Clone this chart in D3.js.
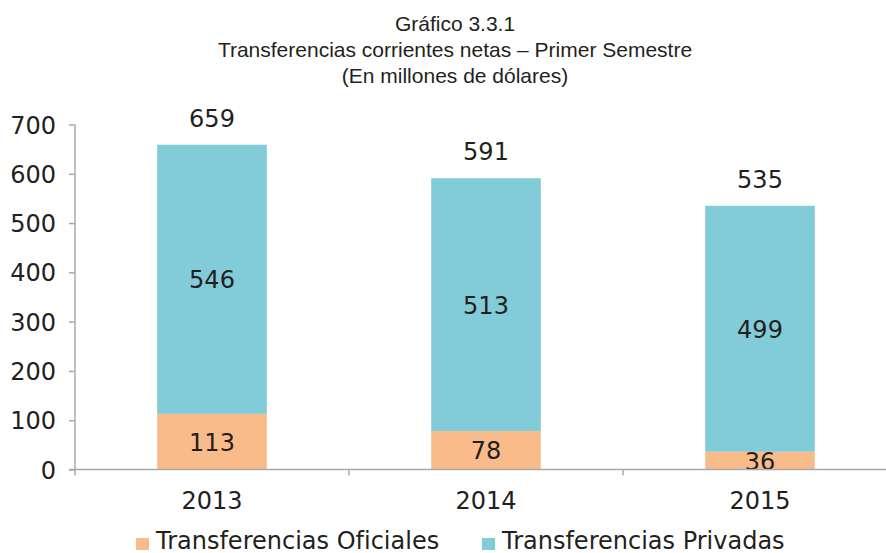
<!DOCTYPE html>
<html lang="es">
<head>
<meta charset="UTF-8">
<title>Gráfico 3.3.1</title>
<script src="https://d3js.org/d3.v7.min.js"></script>
<style>
  body { margin: 0; background: #fff; }
  .ttl { font-family: "Liberation Sans", Arial, sans-serif; font-size: 21px; fill: #231f20; }
  .lbl { font-family: "DejaVu Sans", Verdana, sans-serif; font-size: 24px; fill: #231f20; }
</style>
</head>
<body>
<svg id="chart" width="886" height="553"></svg>
<script>
// data
const years = ["2013", "2014", "2015"];
const oficiales = [113, 78, 36];
const privadas = [546, 513, 499];
const totales = [659, 591, 535];
const yTicks = [0, 100, 200, 300, 400, 500, 600, 700];
const seriesNames = ["Transferencias Oficiales", "Transferencias Privadas"];
const colors = ["#f9bb8a", "#82cbd8"];

const svg = d3.select("#chart");
const x0 = 75, x1 = 897, yTop = 124.5, yBot = 469.5;

const x = d3.scaleBand().domain(years).range([x0, x1]).paddingInner(0).paddingOuter(0);
const y = d3.scaleLinear().domain([0, 700]).range([yBot, yTop]);
const barW = x.bandwidth() * 0.4;

// titles
const titles = ["Gráfico 3.3.1", "Transferencias corrientes netas – Primer Semestre", "(En millones de dólares)"];
svg.selectAll("text.ttl").data(titles).join("text")
  .attr("class", "ttl")
  .attr("x", 455)
  .attr("y", (d, i) => 31 + i * 26)
  .attr("text-anchor", "middle")
  .text(d => d);

// stacked bars
const rows = years.map((yr, i) => ({year: yr, of: oficiales[i], pr: privadas[i], tot: totales[i]}));
const stack = d3.stack().keys(["of", "pr"])(rows);

const g = svg.append("g");
g.selectAll("g.s").data(stack).join("g")
  .attr("fill", (d, i) => colors[i])
  .selectAll("rect").data(d => d).join("rect")
  .attr("x", d => x(d.data.year) + (x.bandwidth() - barW) / 2)
  .attr("width", barW)
  .attr("y", d => y(d[1]))
  .attr("height", d => y(d[0]) - y(d[1]));

// segment labels
stack.forEach(s => {
  g.selectAll(null).data(s).join("text")
    .attr("class", "lbl")
    .attr("x", d => x(d.data.year) + x.bandwidth() / 2)
    .attr("y", d => y((d[0] + d[1]) / 2) + 9)
    .attr("text-anchor", "middle")
    .text(d => d[1] - d[0]);
});

// totals
g.selectAll("text.tot").data(rows).join("text")
  .attr("class", "lbl")
  .attr("x", d => x(d.year) + x.bandwidth() / 2)
  .attr("y", d => y(d.tot) - 18)
  .attr("text-anchor", "middle")
  .text(d => d.tot);

// y axis
const axisColor = "#a9a9b0";
const ya = svg.append("g").attr("transform", `translate(${x0},0)`)
  .call(d3.axisLeft(y).tickValues(yTicks).tickSize(6).tickPadding(13).tickSizeOuter(0));
ya.select(".domain").attr("stroke", axisColor).attr("stroke-width", 1.5)
  .attr("d", `M0,${yTop}V${yBot + 6}`);
ya.selectAll(".tick line").attr("stroke", axisColor).attr("stroke-width", 1.5);
ya.selectAll(".tick text").attr("class", "lbl").attr("fill", "#231f20").attr("dy", "0.36em");

// x axis
const xa = svg.append("g").attr("transform", `translate(0,${yBot})`);
xa.append("line").attr("x1", x0 - 6).attr("x2", 886).attr("y1", 0).attr("y2", 0)
  .attr("stroke", axisColor).attr("stroke-width", 1.5);
xa.selectAll("line.tk").data(years.slice(1)).join("line")
  .attr("x1", d => x(d)).attr("x2", d => x(d))
  .attr("y1", 0).attr("y2", 6)
  .attr("stroke", axisColor).attr("stroke-width", 1.5);
xa.selectAll("text").data(years).join("text")
  .attr("class", "lbl")
  .attr("x", d => x(d) + x.bandwidth() / 2)
  .attr("y", 39)
  .attr("text-anchor", "middle")
  .text(d => d);

// legend
const leg = svg.append("g");
const legX = [136, 482];
seriesNames.forEach((n, i) => {
  leg.append("rect").attr("x", legX[i]).attr("y", 538).attr("width", 13).attr("height", 12).attr("fill", colors[i]);
  leg.append("text").attr("class", "lbl").attr("x", legX[i] + 20).attr("y", 549).text(n);
});
</script>
</body>
</html>
